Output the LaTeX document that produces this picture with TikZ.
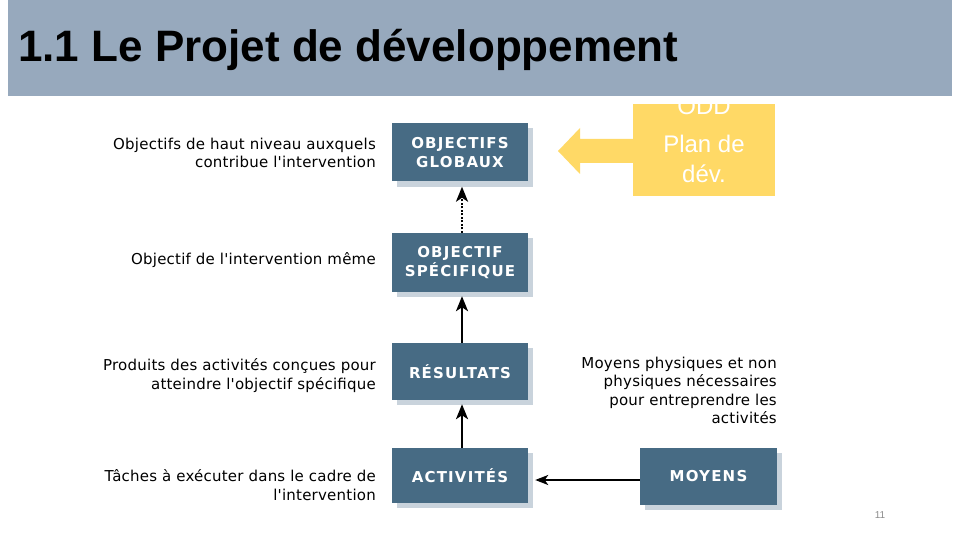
\documentclass[tikz,border=0pt]{standalone}
\usepackage{fontspec}
\setmainfont{Liberation Sans}
\newfontfamily\sidefont{DejaVu Sans}[LetterSpace=1.5]
\newfontfamily\boxfont{DejaVu Sans}[LetterSpace=8]
\usetikzlibrary{arrows.meta,shadows}
\definecolor{titlebg}{HTML}{97A9BD}
\definecolor{boxblue}{HTML}{476B84}
\definecolor{shadowcol}{HTML}{C9D3DC}
\definecolor{yel}{HTML}{FFD966}
\definecolor{pagegray}{HTML}{8C8C8C}
\begin{document}
\begin{tikzpicture}[x=1pt,y=-1pt,
  bluebox/.style={fill=boxblue, text=white, draw=none, inner sep=0pt, align=center,
    font=\boxfont\bfseries\fontsize{15}{18.5}\selectfont,
    general shadow={fill=shadowcol, shadow xshift=5pt, shadow yshift=-5pt}},
  sidetext/.style={inner sep=0pt, align=right, anchor=north east, text=black,
    font=\sidefont\fontsize{15}{18.3}\selectfont},
  arr/.style={-{Stealth[length=15pt,width=12pt,inset=4pt]}, line width=2.5pt, black},
  harr/.style={-{Stealth[length=13pt,width=10pt,inset=3.5pt]}, line width=1.8pt, black}]
\useasboundingbox (0,0) rectangle (960,540);
\fill[white] (0,0) rectangle (960,540);

% yellow box and block arrow
\node[fill=yel, minimum width=142pt, minimum height=92pt, inner sep=0pt] (ydb) at (704,150) {};
\node[text=white, align=center, inner sep=0pt, font=\fontsize{24}{30}\selectfont] (ydbtxt) at (704,140) {ODD\\[8pt]Plan de\\dév.};
\fill[yel] (ydb.west |- 0,139) -- (580,139) -- (580,128) -- (558,151) -- (580,174) -- (580,163) -- (ydb.west |- 0,163) -- cycle;

% title bar
\fill[titlebg] (8,0) rectangle (952,96);
\node[anchor=base west, inner sep=0pt, font=\bfseries\fontsize{44}{50}\selectfont, text=black] (title) at (18,62) {1.1 Le Projet de développement};

% boxes
\node[bluebox, minimum width=136pt, minimum height=58pt] (og) at (460,152.5) {OBJECTIFS\\GLOBAUX};
\node[bluebox, minimum width=136pt, minimum height=59pt] (os) at (460,262.5) {OBJECTIF\\SPÉCIFIQUE};
\node[bluebox, minimum width=136pt, minimum height=57pt] (res) at (460,371.5) {RÉSULTATS};
\node[bluebox, minimum width=136pt, minimum height=55pt] (act) at (460,475.5) {ACTIVITÉS};
\node[bluebox, minimum width=137pt, minimum height=57pt] (moy) at (708.5,476.5) {MOYENS};

% arrows
\draw[arr, dash pattern=on 2pt off 1.5pt] ([xshift=2pt]os.north) -- ([xshift=2pt,yshift=-5pt]og.south);
\draw[arr] ([xshift=2pt]res.north) -- ([xshift=2pt,yshift=-4pt]os.south);
\draw[arr] ([xshift=2pt]act.north) -- ([xshift=2pt,yshift=-4pt]res.south);
\draw[harr] ([yshift=-3.5pt]moy.west) -- ([xshift=7pt,yshift=-4.5pt]act.east);

% side texts
\node[sidetext] (t1) at (376,138) {Objectifs de haut niveau auxquels\\contribue l'intervention};
\node[sidetext] (t2) at (376,252.5) {Objectif de l'intervention même};
\node[sidetext] (t3) at (376,358.5) {Produits des activités conçues pour\\atteindre l'objectif spécifique};
\node[sidetext] (t4) at (376,469.5) {Tâches à exécuter dans le cadre de\\l'intervention};
\node[sidetext] (t5) at (777,357) {Moyens physiques et non\\physiques nécessaires\\pour entreprendre les\\activités};

\node[text=pagegray, inner sep=0pt, font=\fontsize{10}{12}\selectfont] (pg) at (880,515) {11};
\end{tikzpicture}
\end{document}
